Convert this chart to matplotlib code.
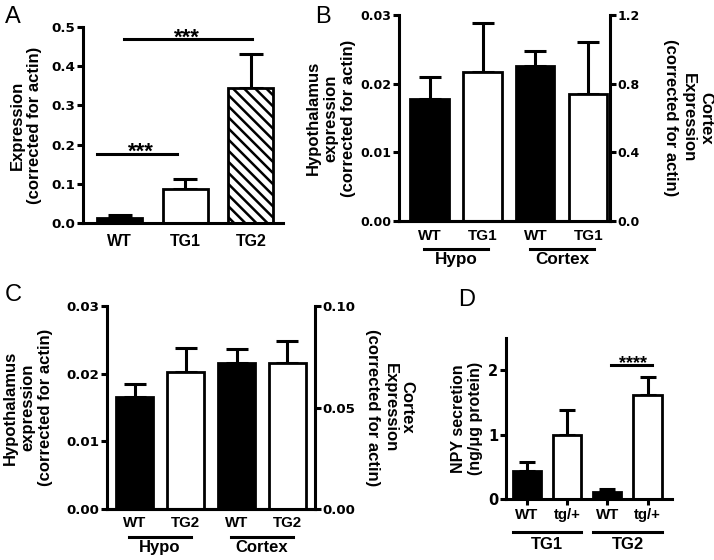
import numpy as np
import matplotlib
matplotlib.use("Agg")
import matplotlib.pyplot as plt
from matplotlib import transforms

plt.rcParams['font.family'] = ['Liberation Sans', 'DejaVu Sans']
plt.rcParams['font.weight'] = 'bold'
plt.rcParams['axes.labelweight'] = 'bold'
plt.rcParams['hatch.linewidth'] = 1.8

# panel A
a_labels = ['WT', 'TG1', 'TG2']
a_means = [0.013, 0.087, 0.345]
a_sem = [0.008, 0.024, 0.085]

# panel B
b_labels = ['WT', 'TG1', 'WT', 'TG1']
b_hypo_means = [0.0177, 0.0217]
b_hypo_sem = [0.0032, 0.0071]
b_cortex_means = [0.90, 0.74]
b_cortex_sem = [0.09, 0.30]

# panel C
c_labels = ['WT', 'TG2', 'WT', 'TG2']
c_hypo_means = [0.0165, 0.0203]
c_hypo_sem = [0.0019, 0.0035]
c_cortex_means = [0.0720, 0.0717]
c_cortex_sem = [0.0067, 0.0110]

# panel D
d_labels = ['WT', 'tg/+', 'WT', 'tg/+']
d_means = [0.44, 1.00, 0.12, 1.61]
d_sem = [0.14, 0.39, 0.04, 0.29]
groups_bc = ['Hypo', 'Cortex']
groups_d = ['TG1', 'TG2']

LW = 2.2
LABEL_FS = 12


def style_axis(ax, yfs, xfs, right=False):
    for s in ['top', 'right', 'left', 'bottom']:
        ax.spines[s].set_visible(False)
    ax.spines['bottom'].set_visible(True)
    ax.spines['bottom'].set_linewidth(LW)
    side = 'right' if right else 'left'
    ax.spines[side].set_visible(True)
    ax.spines[side].set_linewidth(LW)
    ax.tick_params(axis='y', width=LW, length=4, direction='out', labelsize=yfs, pad=1.5,
                   labelfontfamily='DejaVu Sans')
    ax.tick_params(axis='x', length=0, labelsize=xfs)


def bars(ax, x, means, sem, colors, width, capsize, hatch=None):
    ax.errorbar(x, means, yerr=[np.zeros(len(means)), sem], fmt='none', ecolor='black',
                elinewidth=LW, capsize=capsize, capthick=LW, zorder=1)
    b = ax.bar(x, means, width=width, color=colors, edgecolor='black', linewidth=2.0, zorder=2)
    if hatch is not None:
        for patch, h in zip(b, hatch):
            if h:
                patch.set_hatch(h)
    return b


def group_lines(ax, names, y_line, y_text, ext, fs):
    trans = transforms.blended_transform_factory(ax.transData, ax.transAxes)
    for i, name in enumerate(names):
        x0 = 2 * i - ext
        x1 = 2 * i + 1 + ext
        ax.plot([x0, x1], [y_line, y_line], color='black', lw=LW, transform=trans, clip_on=False)
        ax.text(2 * i + 0.5, y_text, name, transform=trans, ha='center', va='top',
                fontsize=fs, fontweight='bold')


fig = plt.figure(figsize=(7.14, 5.6), dpi=100)

# ---- A ----
axA = fig.add_axes([0.1162, 0.6018, 0.2801, 0.35])
style_axis(axA, 9.7, 11.5)
xa = np.arange(len(a_labels))
bars(axA, xa, a_means, a_sem, ['black', 'white', 'white'], 0.69, 8.5, hatch=[None, None, '\\\\\\'])
axA.set_xlim(-0.56, 2.49)
axA.set_ylim(0, 0.5)
axA.set_yticks(np.arange(0, 0.51, 0.1))
axA.set_yticklabels([f'{v:.1f}' for v in np.arange(0, 0.51, 0.1)])
axA.set_xticks(xa)
axA.set_xticklabels(a_labels)
axA.tick_params(axis='x', pad=8)
axA.set_ylabel('Expression\n(corrected for actin)', fontsize=LABEL_FS, va='center')
axA.yaxis.set_label_coords(-0.285, 0.5)
axA.plot([-0.35, 0.88], [0.176, 0.176], color='black', lw=LW, clip_on=False)
axA.text(0.32, 0.166, '***', ha='center', va='baseline', fontsize=16, fontweight='bold')
axA.plot([0.06, 2.02], [0.47, 0.47], color='black', lw=LW, clip_on=False)
axA.text(1.02, 0.458, '***', ha='center', va='baseline', fontsize=16, fontweight='bold')

# ---- B ----
axB = fig.add_axes([0.5588, 0.6054, 0.2955, 0.3679])
style_axis(axB, 9, 11)
axB2 = axB.twinx()
style_axis(axB2, 9, 11, right=True)
bars(axB, [0, 1], b_hypo_means, b_hypo_sem, ['black', 'white'], 0.75, 8)
bars(axB2, [2, 3], b_cortex_means, b_cortex_sem, ['black', 'white'], 0.72, 8)
axB.set_xlim(-0.58, 3.41)
axB.set_ylim(0, 0.03)
axB.set_yticks([0, 0.01, 0.02, 0.03])
axB.set_yticklabels(['0.00', '0.01', '0.02', '0.03'])
axB2.set_ylim(0, 1.2)
axB2.set_yticks([0, 0.4, 0.8, 1.2])
axB2.set_yticklabels(['0.0', '0.4', '0.8', '1.2'])
axB.set_xticks(range(4))
axB.set_xticklabels(b_labels)
axB.tick_params(axis='x', pad=6)
axB.set_ylabel('Hypothalamus\nexpression\n(corrected for actin)', fontsize=LABEL_FS, va='center')
axB.yaxis.set_label_coords(-0.322, 0.5)
axB2.set_ylabel('Cortex\nExpression\n(corrected for actin)', fontsize=LABEL_FS, rotation=270, va='center')
axB2.yaxis.set_label_coords(1.37, 0.5)
group_lines(axB, groups_bc, -0.136, -0.150, 0.1, 12.3)

# ---- C ----
axC = fig.add_axes([0.1499, 0.0905, 0.2913, 0.3636])
style_axis(axC, 9.6, 10.8)
axC2 = axC.twinx()
style_axis(axC2, 9.6, 10.8, right=True)
bars(axC, [0, 1], c_hypo_means, c_hypo_sem, ['black', 'white'], 0.71, 8)
bars(axC2, [2, 3], c_cortex_means, c_cortex_sem, ['black', 'white'], 0.71, 8)
axC.set_xlim(-0.54, 3.54)
axC.set_ylim(0, 0.03)
axC.set_yticks([0, 0.01, 0.02, 0.03])
axC.set_yticklabels(['0.00', '0.01', '0.02', '0.03'])
axC2.set_ylim(0, 0.1)
axC2.set_yticks([0, 0.05, 0.1])
axC2.set_yticklabels(['0.00', '0.05', '0.10'])
axC.set_xticks(range(4))
axC.set_xticklabels(c_labels)
axC.tick_params(axis='x', pad=5)
axC.set_ylabel('Hypothalamus\nexpression\n(corrected for actin)', fontsize=LABEL_FS, va='center')
axC.yaxis.set_label_coords(-0.38, 0.5)
axC2.set_ylabel('Cortex\nExpression\n(corrected for actin)', fontsize=LABEL_FS, rotation=270, va='center')
axC2.yaxis.set_label_coords(1.36, 0.5)
group_lines(axC, groups_bc, -0.135, -0.150, 0.11, 12)

# ---- D ----
axD = fig.add_axes([0.7087, 0.1084, 0.2325, 0.288])
style_axis(axD, 10.5, 10.8)
bars(axD, np.arange(4), d_means, d_sem, ['black', 'white', 'black', 'white'], 0.7, 5.5)
axD.set_xlim(-0.525, 3.61)
axD.set_ylim(0, 2.5)
axD.set_yticks([0, 1, 2])
axD.set_xticks(range(4))
axD.set_xticklabels(d_labels)
axD.tick_params(axis='x', length=4, width=LW, direction='out', pad=2)
axD.set_ylabel('NPY secretion\n(ng/\u03bcg protein)', fontsize=11.5, va='center')
axD.yaxis.set_label_coords(-0.235, 0.5)
axD.plot([2.1, 3.1], [2.08, 2.08], color='black', lw=LW, clip_on=False)
axD.text(2.65, 2.03, '****', ha='center', va='baseline', fontsize=13, fontweight='bold')
group_lines(axD, groups_d, -0.205, -0.232, 0.35, 12)

# panel letters
for letter, x, y in [('A', 5, 6), ('B', 315, 6), ('C', 5, 284), ('D', 458, 289)]:
    fig.text(x / 714, 1 - y / 560, letter, fontsize=17, fontweight='normal', ha='left', va='top')

fig.savefig('out.png', dpi=100)
